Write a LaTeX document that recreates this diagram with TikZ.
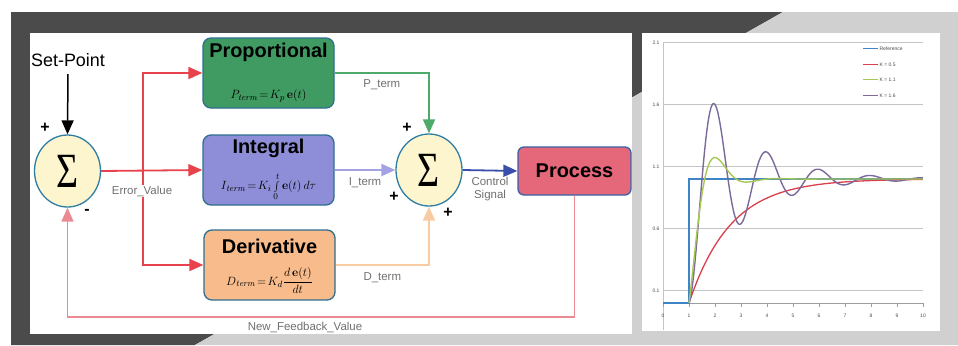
\documentclass[tikz,border=0pt]{standalone}
\usepackage[no-math]{fontspec}
\setmainfont{Liberation Sans}
\newfontfamily\timesfont{Liberation Serif}
\usepackage{graphicx}
\usetikzlibrary{arrows.meta,calc,positioning,shapes.geometric}

\definecolor{darkbg}{HTML}{4B4B4B}
\definecolor{lightbg}{HTML}{D0D0D0}
\definecolor{boxedge}{HTML}{2E6F90}
\definecolor{sumfill}{HTML}{FCF5CE}
\definecolor{sumedge}{HTML}{2F7FA5}
\definecolor{propgreen}{HTML}{3F9B62}
\definecolor{integblue}{HTML}{8E8ED8}
\definecolor{derivorange}{HTML}{F7BB8C}
\definecolor{procred}{HTML}{E5677A}
\definecolor{procedge}{HTML}{3A62A8}
\definecolor{errred}{HTML}{E8424C}
\definecolor{fbpink}{HTML}{EC8A94}
\definecolor{pgreen}{HTML}{4DAA68}
\definecolor{ilav}{HTML}{A3A3E3}
\definecolor{dorange}{HTML}{F8CBA3}
\definecolor{ctrlblue}{HTML}{3A4FAA}
\definecolor{taggray}{HTML}{707070}
\definecolor{refblue}{HTML}{3D85C6}
\definecolor{kred}{HTML}{D9404B}
\definecolor{kgreen}{HTML}{A5C855}
\definecolor{kpurple}{HTML}{7B6A9A}
\definecolor{gridgray}{HTML}{C4C4C4}

\newcommand\sumglyph{{\timesfont\fontsize{38}{38}\selectfont\scalebox{1}[1.3]{Σ}}}

\begin{document}
\begin{tikzpicture}[x=1bp, y=-1bp, >={Triangle[length=14bp,width=12bp]},
    blockbox/.style={draw=boxedge, line width=1.3bp, rounded corners=8bp,
      minimum width=131bp, minimum height=70bp},
    sumnode/.style={ellipse, draw=sumedge, line width=1.3bp, fill=sumfill,
      minimum width=66bp, minimum height=72bp, inner sep=0pt},
    title/.style={font=\fontsize{20}{24}\selectfont\bfseries, inner sep=1bp},
    formula/.style={font=\fontsize{13}{15}\selectfont, inner sep=0pt},
    sign/.style={font=\fontsize{16}{16}\selectfont\bfseries},
    tag/.style={font=\fontsize{11.5}{14}\selectfont, text=taggray},
    ticklbl/.style={font=\fontsize{5}{6}\selectfont, text=black!70},
    flow/.style={line width=1.8bp, ->}]
  \useasboundingbox (0,0) rectangle (958,345);

  % background and panels
  \fill[darkbg] (11,12) -- (783,12) -- (195,345) -- (11,345) -- cycle;
  \fill[lightbg] (783,12) -- (958,12) -- (958,345) -- (195,345) -- cycle;
  \fill[white] (30,33) rectangle (632,334);
  \fill[white] (642,33) rectangle (940,331);

  % controller blocks
  \node[font=\fontsize{18}{20}\selectfont] (sp) at (68,60) {Set-Point};
  \node[sumnode] (s1) at (67.5,171) {\sumglyph};
  \node[blockbox, fill=propgreen] (prop) at (268.5,73) {};
  \node[blockbox, fill=integblue] (integ) at (268.5,170) {};
  \node[blockbox, fill=derivorange] (deriv) at (269.5,265) {};
  \node[sumnode] (s2) at (429,170) {\sumglyph};
  \node[draw=procedge, line width=1.3bp, rounded corners=6bp, fill=procred,
    minimum width=113bp, minimum height=48bp, title] (proc) at (574.5,171) {Process};

  \node[title] (propT) at ($(prop.north)+(0,15)$) {Proportional};
  \node[formula] (propF) at ($(prop.south)+(0,-13)$) {$P_{\mathit{term}}\!=\!K_p\,\mathbf{e}(t)$};
  \node[title] (integT) at ($(integ.north)+(0,14)$) {Integral};
  \node[formula] (integF) at ($(integ.south)+(0,-19)$) {$I_{\mathit{term}}\!=\!K_i\int\limits_0^t \mathbf{e}(t)\,d\tau$};
  \node[title] (derivT) at ($(deriv.north)+(0,17)$) {Derivative};
  \node[formula] (derivF) at ($(deriv.south)+(0,-20)$) {$D_{\mathit{term}}\!=\!K_d\displaystyle\frac{d\,\mathbf{e}(t)}{dt}$};

  % signals
  \draw[->, line width=1.5bp, shorten <=4bp] (sp.south) -- (s1.north);
  \coordinate (split) at (143,171);
  \draw[flow, errred] (s1.east) -- (integ.west);
  \draw[flow, errred] (split) |- (prop.west);
  \draw[flow, errred] (split) |- (deriv.west);
  \node[tag, fill=white, inner sep=1bp] (errlbl) at (142,191) {Error\_Value};

  \draw[flow, pgreen, line width=1.5bp] (prop.east) -| (s2.north)
    node[pos=0.25, below=3bp, tag] (plbl) {P\_term};
  \draw[flow, ilav, line width=2.2bp] (integ.east) -- (s2.west)
    node[midway, below=3bp, tag] (ilbl) {I\_term};
  \draw[flow, dorange] (deriv.east) -| (s2.south)
    node[pos=0.25, below=3bp, tag] (dlbl) {D\_term};
  \draw[flow, ctrlblue] (s2.east) -- (proc.west)
    node[midway, below=2bp, tag, align=center] (clbl) {Control\\Signal};

  \coordinate (fb) at (305,317);
  \draw[flow, fbpink, line width=1.5bp] (proc.south) |- (fb)
    node[below=1bp, tag] (fblbl) {New\_Feedback\_Value} -| (s1.south);

  \node[sign] (plusA) at (45,128) {+};
  \node[sign] (minusA) at (87,212) {-};
  \node[sign] (plusB) at (407,128) {+};
  \node[sign] (plusC) at (394,197) {+};
  \node[sign] (plusD) at (448,213) {+};

  % step responses
  \begin{scope}[shift={(663,303)}, x=26bp, y=124bp]
    \foreach \v [count=\k] in {0.1,0.6,1.1,1.6,2.1} {
      \draw[gridgray, line width=0.8bp] (0,\v) -- (10,\v);
      \node[ticklbl, left] (yl\k) at (0,\v) {\v};
    }
    \draw[gridgray, line width=0.8bp] (0,-0.22) -- (0,2.1);
    \draw[gridgray!80!black, line width=0.8bp] (0,0) -- (10,0);
    \foreach \t in {0,...,10} {
      \draw[gridgray!80!black, line width=0.6bp] (\t,0) -- (\t,-0.03);
      \node[ticklbl] (xl\t) at (\t,-0.1) {\t};
    }
    \draw[refblue, line width=1.4bp] (0,0) -- (1,0) -- (1,1) -- (10,1);
    \draw[kred, line width=1.3bp] plot[domain=1:10, samples=120]
      (\x, {1-exp(-(\x-1)/1.6)});
    \draw[kpurple, line width=1.4bp] plot[domain=1:10, samples=300]
      (\x, {1-exp(-0.51*(\x-1))*cos(180*(\x-1))});
    \draw[kgreen, line width=1.4bp] plot[domain=1:10, samples=200]
      (\x, {1-exp(-1.6*(\x-1))*cos(149*(\x-1))});
    \foreach \c/\txt [count=\k] in {refblue/Reference, kred/K = 0.5, kgreen/K = 1.1, kpurple/K = 1.6}
      \draw[\c, line width=1.2bp] (7.7,{2.05-0.125*(\k-1)}) -- (8.27,{2.05-0.125*(\k-1)})
        node[right, ticklbl, inner sep=1bp] (lg\k) {\txt};
  \end{scope}
\end{tikzpicture}
\end{document}
